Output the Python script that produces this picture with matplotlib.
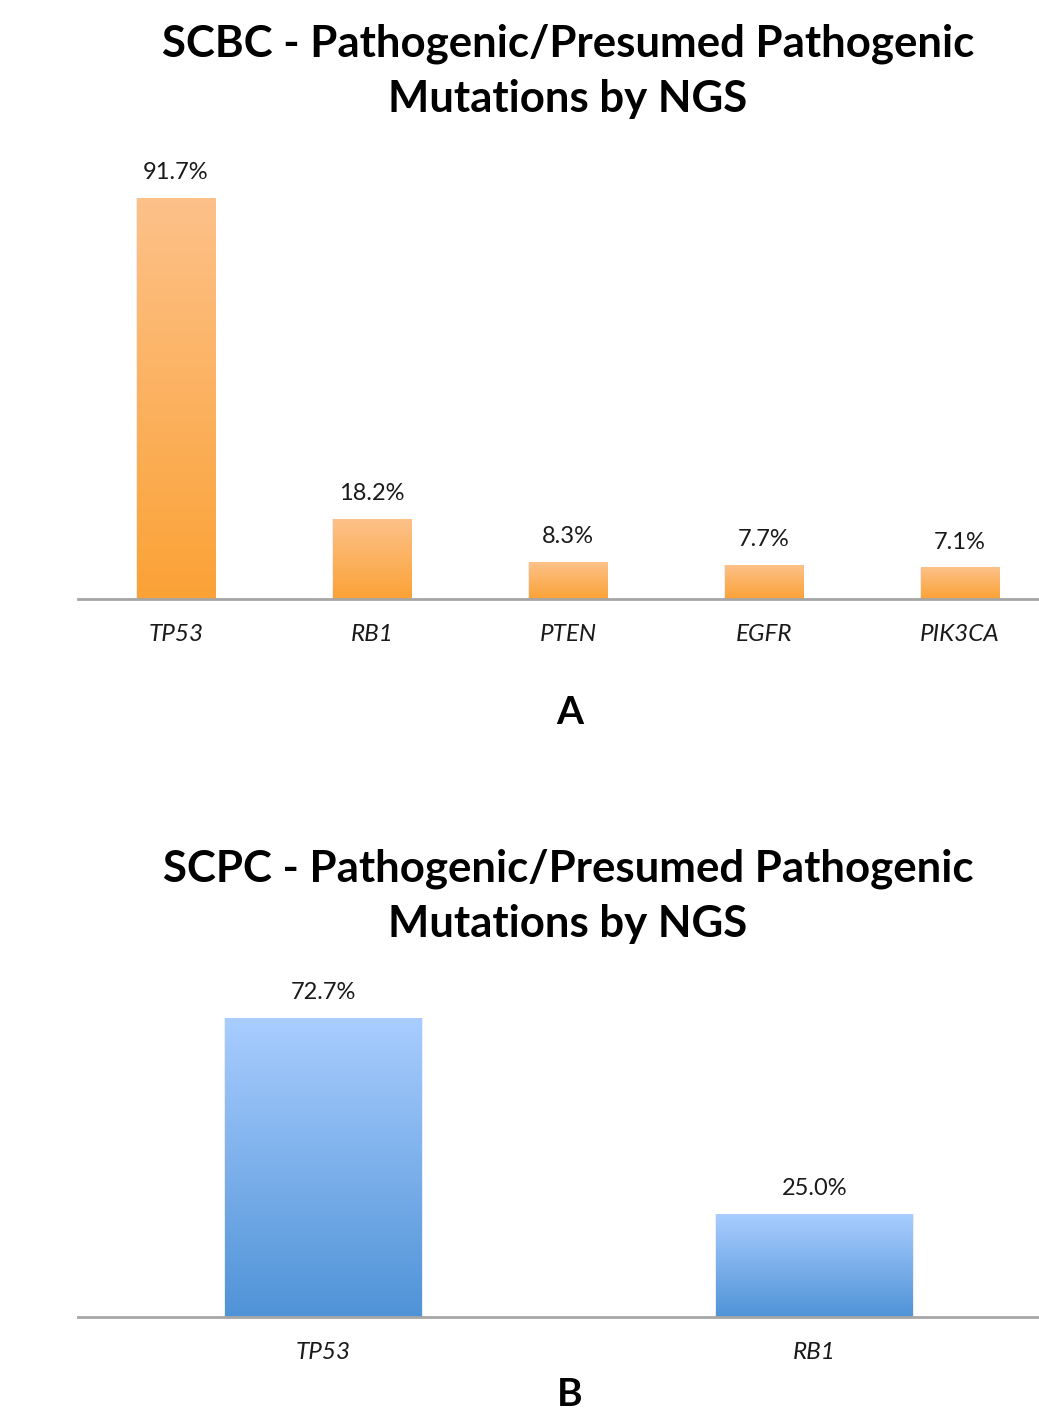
import numpy as np
import matplotlib
matplotlib.use('Agg')
import matplotlib.pyplot as plt
from matplotlib.colors import LinearSegmentedColormap

# panel A - SCBC
genes_a = ['TP53', 'RB1', 'PTEN', 'EGFR', 'PIK3CA']
values_a = [91.7, 18.2, 8.3, 7.7, 7.1]
title_a = 'SCBC - Pathogenic/Presumed Pathogenic\nMutations by NGS'

# panel B - SCPC
genes_b = ['TP53', 'RB1']
values_b = [72.7, 25.0]
title_b = 'SCPC - Pathogenic/Presumed Pathogenic\nMutations by NGS'

W, H = 1039, 1416
FONT = 'Lato'


def px_axes(fig, left, top, right, bottom):
    # pixel box -> figure fraction
    return fig.add_axes([left / W, 1 - bottom / H, (right - left) / W, (bottom - top) / H])


def gradient_bars(ax, genes, values, top_col, bot_col, width=0.4, shadow=0.01):
    cmap = LinearSegmentedColormap.from_list('g', [bot_col, top_col])
    x = np.arange(len(genes))
    # soft shadow around the bars
    ax.bar(x, values, width=width + shadow, color='#000000', alpha=0.07, zorder=1)
    bars = ax.bar(x, values, width=width, color='none', zorder=2)
    grad = np.linspace(0, 1, 256).reshape(-1, 1)
    for b in bars:
        x0, w, h = b.get_x(), b.get_width(), b.get_height()
        ax.imshow(grad, extent=[x0, x0 + w, 0, h], origin='lower', cmap=cmap,
                  aspect='auto', zorder=3)
    for xi, v in zip(x, values):
        ax.annotate(f'{v:.1f}%', (xi, v), xytext=(0, 11), textcoords='offset points',
                    ha='center', va='bottom', fontsize=17, family=FONT, color='#1a1a1a')
    ax.set_xlim(-0.5, len(genes) - 0.5)
    ax.set_ylim(0, 100)
    ax.set_xticks(x)
    ax.set_xticklabels(genes, fontsize=17.5, style='italic', family=FONT, color='#1a1a1a')
    ax.tick_params(axis='x', length=0, pad=18)
    ax.set_yticks([])
    for s in ['top', 'left', 'right']:
        ax.spines[s].set_visible(False)
    ax.spines['bottom'].set_color('#a6a6a6')
    ax.spines['bottom'].set_linewidth(2)
    ax.spines['bottom'].set_zorder(4)


fig = plt.figure(figsize=(W / 100, H / 100), dpi=100)

ax1 = px_axes(fig, 78, 162, 1058, 599)
gradient_bars(ax1, genes_a, values_a, '#fdc189', '#fba236', shadow=0.012)

ax2 = px_axes(fig, 78, 906, 1060, 1317)
gradient_bars(ax2, genes_b, values_b, '#a9cdff', '#4f93d7', shadow=0.006)

fig.text(568 / W, 1 - 71 / H, title_a, ha='center', va='center', fontsize=31.5,
         fontweight='bold', family=FONT, linespacing=1.45)
fig.text(568 / W, 1 - 896 / H, title_b, ha='center', va='center', fontsize=31.5,
         fontweight='bold', family=FONT, linespacing=1.45)
fig.text(570 / W, 1 - 712 / H, 'A', ha='center', va='center', fontsize=28,
         fontweight='bold', family=FONT)
fig.text(570 / W, 1 - 1395 / H, 'B', ha='center', va='center', fontsize=28,
         fontweight='bold', family=FONT)

fig.savefig('out.png', dpi=100)
